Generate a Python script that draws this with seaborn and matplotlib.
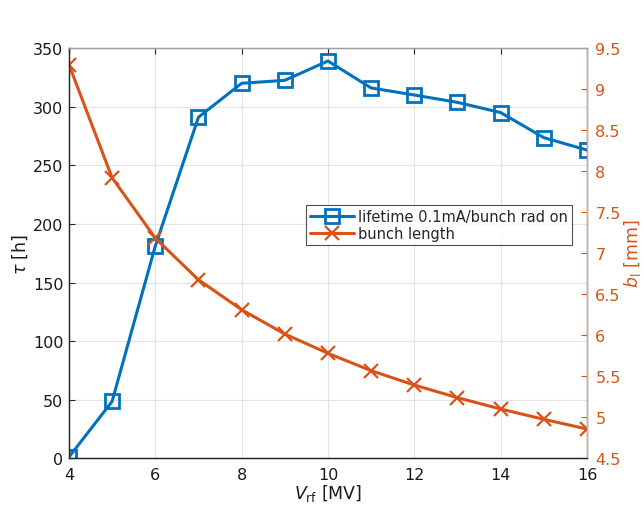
import matplotlib
matplotlib.use("Agg")
import matplotlib.pyplot as plt
import matplotlib.ticker as mticker
import numpy as np
import pandas as pd
import seaborn as sns

# RF voltage scan: beam lifetime and bunch length
v_rf = [4, 5, 6, 7, 8, 9, 10, 11, 12, 13, 14, 15, 16]
lifetime_h = [1.0, 48.5, 181, 291, 320, 322.5, 339, 316, 310, 303.7, 295, 273.6, 263]
bunch_len_mm = [9.30, 7.92, 7.185, 6.677, 6.311, 6.015, 5.78, 5.568, 5.393, 5.239, 5.101, 4.975, 4.857]

x_ticks = [4, 6, 8, 10, 12, 14, 16]
left_ticks = [0, 50, 100, 150, 200, 250, 300, 350]
right_ticks = [4.5, 5, 5.5, 6, 6.5, 7, 7.5, 8, 8.5, 9, 9.5]

BLUE = "#0072BD"
ORANGE = "#D95319"
AXIS_GRAY = "#262626"

sns.set_style("white")
plt.rcParams["font.family"] = ["DejaVu Sans"]
plt.rcParams["mathtext.fontset"] = "dejavusans"

df = pd.DataFrame({"v_rf": v_rf, "lifetime": lifetime_h, "blen": bunch_len_mm})

fig = plt.figure(figsize=(6.44, 5.10), dpi=100)
ax = fig.add_axes([0.107, 0.0994, 0.8045, 0.8043])
ax2 = ax.twinx()

sns.lineplot(data=df, x="v_rf", y="lifetime", ax=ax, color=BLUE, linewidth=2.2,
             marker="s", markersize=10, markerfacecolor="none",
             markeredgecolor=BLUE, markeredgewidth=2.0,
             label="lifetime 0.1mA/bunch rad on", legend=False)
sns.lineplot(data=df, x="v_rf", y="blen", ax=ax2, color=ORANGE, linewidth=2.2,
             marker="x", markersize=10, markeredgecolor=ORANGE,
             markeredgewidth=1.6, label="bunch length", legend=False)

ax.set_xlim(4, 16)
ax.set_ylim(0, 350)
ax2.set_ylim(4.5, 9.5)
ax.set_xticks(x_ticks)
ax.set_yticks(left_ticks)
ax2.set_yticks(right_ticks)
ax2.yaxis.set_major_formatter(mticker.FormatStrFormatter("%g"))

ax.grid(True, color="#e3e3e3", linewidth=0.8)
ax.set_axisbelow(True)

for a in (ax, ax2):
    for s in a.spines.values():
        s.set_linewidth(0.9)
        s.set_color(AXIS_GRAY)
ax2.spines["right"].set_color("#f0a27e")
ax.spines["top"].set_color("#a0a0a0")
ax2.spines["top"].set_color("#a0a0a0")

ax.tick_params(axis="both", direction="in", length=4, width=0.8,
               labelsize=11.5, color=AXIS_GRAY, labelcolor="#1a1a1a",
               top=True, pad=4)
ax.tick_params(axis="x", top=True, labeltop=False, pad=6)
ax2.tick_params(axis="y", direction="in", length=4, width=0.8,
                labelsize=11.5, color=ORANGE, labelcolor=ORANGE, pad=6)

ax.set_xlabel(r"$V_{\rm rf}$ [MV]", fontsize=12.5, color="#1a1a1a", labelpad=0)
ax.set_ylabel(r"$\tau$ [h]", fontsize=12.5, color="#1a1a1a", labelpad=2)
ax2.set_ylabel(r"$b_{\rm l}$ [mm]", fontsize=12.5, color=ORANGE, labelpad=1)

h1, l1 = ax.get_legend_handles_labels()
h2, l2 = ax2.get_legend_handles_labels()
leg = ax2.legend(h1 + h2, l1 + l2, loc="center right",
                 bbox_to_anchor=(0.972, 0.569), fontsize=10.5,
                 frameon=True, fancybox=False, borderaxespad=0,
                 handlelength=3.0, borderpad=0.3, labelspacing=0.1,
                 handletextpad=0.3)
leg.get_frame().set_edgecolor("#262626")
leg.get_frame().set_linewidth(0.8)

fig.savefig("out.png", dpi=100)
